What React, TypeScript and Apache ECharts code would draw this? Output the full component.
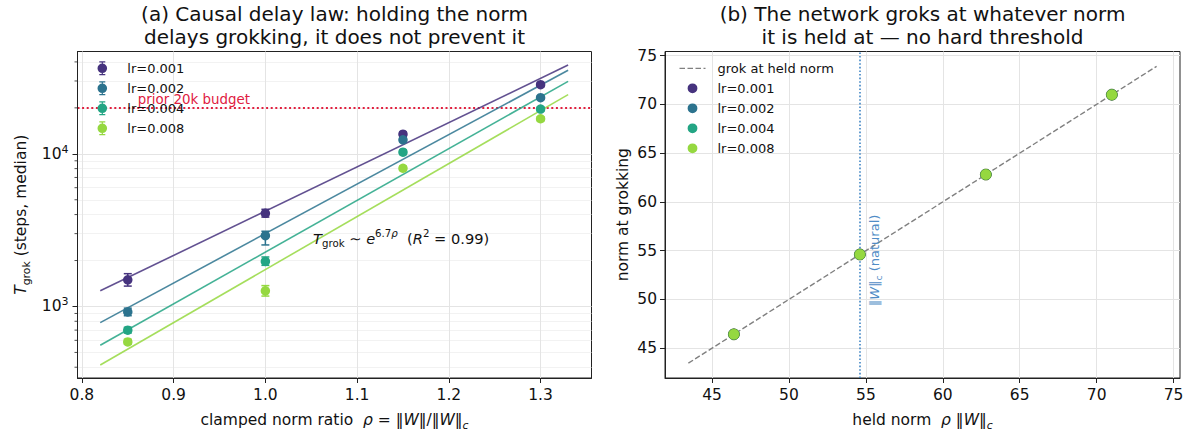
import React, { useEffect, useRef } from "react";
import * as echarts from "echarts";

const FONT = "DejaVu Sans";
const TXT = "#111111";

// ---------- panel (a) data ----------
const lrLabels = ["lr=0.001", "lr=0.002", "lr=0.004", "lr=0.008"];
const lrColors = ["#46337e", "#2c738e", "#23a584", "#95d840"];
const rhoValues = [0.85, 1.0, 1.15, 1.3];
const tGrokMedian = [
  [1495, 4074, 13450, 28380],
  [921, 2908, 12360, 23320],
  [699, 1972, 10245, 19630],
  [586, 1266, 8043, 16970],
];
const tGrokLow = [
  [1360, 3850, 13000, 27500],
  [870, 2530, 12000, 22700],
  [670, 1860, 9900, 19100],
  [565, 1170, 7800, 16500],
];
const tGrokHigh = [
  [1640, 4330, 13900, 29300],
  [975, 3110, 12700, 23900],
  [730, 2110, 10600, 20200],
  [610, 1370, 8300, 17500],
];
const fitRhoEnds = [0.82, 1.33];
const fitTEnds = [
  [1266, 38160],
  [784, 35240],
  [557, 29830],
  [414, 24400],
];
const budgetSteps = 20000;
const xTicksA = [0.8, 0.9, 1.0, 1.1, 1.2, 1.3];
const yMajorA = [1000, 10000];
const yMinorA = [400, 500, 600, 700, 800, 900, 2000, 3000, 4000, 5000, 6000, 7000, 8000, 9000, 20000, 30000, 40000];

// ---------- panel (b) data ----------
const naturalNorm = 54.61;
const heldNorm = [46.42, 54.61, 62.8, 70.99];
const normAtGrok = [
  [46.42, 54.61, 62.8, 70.99],
  [46.42, 54.61, 62.8, 70.99],
  [46.42, 54.61, 62.8, 70.99],
  [46.42, 54.61, 62.8, 70.99],
];
const identityEnds = [43.46, 73.9];
const ticksB = [45, 50, 55, 60, 65, 70, 75];

// axis limits
const xMinA = 0.7952, xMaxA = 1.3555;
const yMinA = 340, yMaxA = 46800;
const minB = 41.94, maxB = 75.42;

// legend icons drawn in full 40x14 boxes (tiny corner specks fix the bounding box)
const BOX = "M0,0h0.01v0.01h-0.01z M39.99,13.99h0.01v0.01h-0.01z ";
const EB_ICON =
  "path://" + BOX +
  "M17,0h6v1.3h-6z M17,12.7h6v1.3h-6z M19.4,0h1.2v14h-1.2z M15.2,7a4.8,4.8 0 1 1 9.6,0a4.8,4.8 0 1 1 -9.6,0z";
const DOT_ICON = "path://" + BOX + "M15.1,7a4.9,4.9 0 1 1 9.8,0a4.9,4.9 0 1 1 -9.8,0z";
const DASH_ICON =
  "path://" + BOX +
  "M7,6.35h5.5v1.3h-5.5z M15,6.35h5.5v1.3h-5.5z M23,6.35h5.5v1.3h-5.5z M31,6.35h2v1.3h-2z";

function mathRich(size: number, lh: number, key: "color" | "fill", col: string) {
  const c: any = { [key]: col };
  return {
    n: { fontSize: size, fontFamily: FONT, lineHeight: lh, ...c },
    it: { fontSize: size, fontFamily: FONT, fontStyle: "italic", lineHeight: lh, ...c },
    sub: { fontSize: size * 0.7, fontFamily: FONT, verticalAlign: "bottom", lineHeight: size * 0.7, ...c },
    subit: { fontSize: size * 0.7, fontFamily: FONT, fontStyle: "italic", verticalAlign: "bottom", lineHeight: size * 0.7, ...c },
    sup: { fontSize: size * 0.7, fontFamily: FONT, verticalAlign: "top", lineHeight: size * 0.7, ...c },
    supit: { fontSize: size * 0.7, fontFamily: FONT, fontStyle: "italic", verticalAlign: "top", lineHeight: size * 0.7, ...c },
  };
}

export default function App() {
  const ref = useRef<HTMLDivElement>(null);
  useEffect(() => {
    if (!ref.current) return;
    const chart = echarts.init(ref.current, undefined, { renderer: "svg" });

    const tickStyle = { fontSize: 15.5, fontFamily: FONT, color: TXT };
    const axisLineStyle = { color: "#222", width: 1 };
    const majorGrid = { color: "#e4e4e4", width: 1, type: "solid" };
    const minorGrid = { color: "#efefef", width: 0.8, type: "solid" };

    const series: any[] = [];

    // panel (a) grid lines + budget line (kept under the marks)
    series.push({
      type: "line",
      xAxisIndex: 0,
      yAxisIndex: 0,
      data: [[1.0, 1000]],
      symbol: "none",
      lineStyle: { opacity: 0 },
      silent: true,
      z: 0,
      markLine: {
        silent: true,
        z: 0,
        symbol: "none",
        label: { show: false },
        data: [
          ...yMinorA.map((v) => ({ yAxis: v, lineStyle: minorGrid })),
          ...yMajorA.map((v) => ({ yAxis: v, lineStyle: majorGrid })),
          ...xTicksA.map((v) => ({ xAxis: v, lineStyle: majorGrid })),
          { yAxis: budgetSteps, lineStyle: { color: "#e0203f", width: 1.8, type: [2, 2.6] } },
        ],
      },
    });

    lrLabels.forEach((name, i) => {
      const color = lrColors[i];
      series.push({
        type: "custom",
        name: "eb" + i,
        xAxisIndex: 0,
        yAxisIndex: 0,
        z: 2,
        encode: { x: 0, y: [1, 2] },
        data: rhoValues.map((r, j) => [r, tGrokLow[i][j], tGrokHigh[i][j]]),
        renderItem: (params: any, api: any) => {
          const x = api.value(0);
          const a = api.coord([x, api.value(1)]);
          const b = api.coord([x, api.value(2)]);
          const cw = 4;
          const st = { stroke: color, lineWidth: 1.5, fill: "none" };
          return {
            type: "group",
            children: [
              { type: "line", shape: { x1: a[0], y1: a[1], x2: b[0], y2: b[1] }, style: st },
              { type: "line", shape: { x1: a[0] - cw, y1: a[1], x2: a[0] + cw, y2: a[1] }, style: st },
              { type: "line", shape: { x1: b[0] - cw, y1: b[1], x2: b[0] + cw, y2: b[1] }, style: st },
            ],
          };
        },
      });
      series.push({
        type: "scatter",
        name,
        xAxisIndex: 0,
        yAxisIndex: 0,
        z: 3,
        symbolSize: 9.5,
        itemStyle: { color, opacity: 1 },
        data: rhoValues.map((r, j) => [r, tGrokMedian[i][j]]),
      });
      series.push({
        type: "line",
        name: "fit" + i,
        xAxisIndex: 0,
        yAxisIndex: 0,
        z: 3,
        symbol: "none",
        showSymbol: false,
        lineStyle: { color, width: 1.6, opacity: 0.85 },
        data: fitRhoEnds.map((r, k) => [r, fitTEnds[i][k]]),
      });
    });

    // panel (b)
    series.push({
      type: "line",
      xAxisIndex: 1,
      yAxisIndex: 1,
      data: [[50, 50]],
      symbol: "none",
      lineStyle: { opacity: 0 },
      silent: true,
      z: 0,
      markLine: {
        silent: true,
        z: 0,
        symbol: "none",
        label: { show: false },
        data: [
          ...ticksB.map((v) => ({ xAxis: v, lineStyle: majorGrid })),
          ...ticksB.map((v) => ({ yAxis: v, lineStyle: majorGrid })),
        ],
      },
    });
    series.push({
      type: "line",
      name: "grok at held norm",
      xAxisIndex: 1,
      yAxisIndex: 1,
      z: 2,
      symbol: "none",
      showSymbol: false,
      color: "#808080",
      lineStyle: { color: "#808080", width: 1.4, type: [5.5, 2.5] },
      data: identityEnds.map((v) => [v, v]),
      markLine: {
        silent: true,
        z: 1,
        symbol: "none",
        label: { show: false },
        data: [{ xAxis: naturalNorm, lineStyle: { color: "#3f84c4", width: 1.6, type: [1.6, 2] } }],
      },
    });
    lrLabels.forEach((name, i) => {
      series.push({
        type: "scatter",
        name,
        xAxisIndex: 1,
        yAxisIndex: 1,
        z: 3,
        symbolSize: 11,
        itemStyle: { color: lrColors[i], borderColor: "rgba(60,90,20,0.35)", borderWidth: 0.6, opacity: 1 },
        data: heldNorm.map((h, j) => [h, normAtGrok[i][j]]),
      });
    });

    const nameRich = mathRich(15.5, 22, "color", TXT);
    const legendText = { fontSize: 13, fontFamily: FONT, color: TXT, lineHeight: 14 };

    const option: any = {
      animation: false,
      backgroundColor: "#ffffff",
      textStyle: { fontFamily: FONT },
      grid: [
        { left: 77.5, top: 51.5, width: 514, height: 327, show: true, borderColor: "#222", borderWidth: 1, containLabel: false },
        { left: 665, top: 51.5, width: 515, height: 327, show: true, borderColor: "#222", borderWidth: 1, containLabel: false },
      ],
      xAxis: [
        {
          type: "value",
          gridIndex: 0,
          min: xMinA,
          max: xMaxA,
          axisLine: { show: true, onZero: false, lineStyle: axisLineStyle },
          axisTick: { show: true, length: 5, lineStyle: axisLineStyle, customValues: xTicksA },
          axisLabel: { ...tickStyle, margin: 9, customValues: xTicksA, formatter: (v: number) => v.toFixed(1) },
          splitLine: { show: false },
          name: "clamped norm ratio  {it|ρ} = ‖{it|W}‖/‖{it|W}‖{subit|c}",
          nameLocation: "middle",
          nameGap: 31,
          nameTextStyle: { fontSize: 15.5, fontFamily: FONT, color: TXT, lineHeight: 22, rich: nameRich },
        },
        {
          type: "value",
          gridIndex: 1,
          min: minB,
          max: maxB,
          axisLine: { show: true, onZero: false, lineStyle: axisLineStyle },
          axisTick: { show: true, length: 5, lineStyle: axisLineStyle, customValues: ticksB },
          axisLabel: { ...tickStyle, margin: 9, customValues: ticksB },
          splitLine: { show: false },
          name: "held norm  {it|ρ} ‖{it|W}‖{subit|c}",
          nameLocation: "middle",
          nameGap: 31,
          nameTextStyle: { fontSize: 15.5, fontFamily: FONT, color: TXT, lineHeight: 22, rich: nameRich },
        },
      ],
      yAxis: [
        {
          type: "log",
          logBase: 10,
          gridIndex: 0,
          min: yMinA,
          max: yMaxA,
          axisLine: { show: true, onZero: false, lineStyle: axisLineStyle },
          axisTick: { show: true, length: 5, lineStyle: axisLineStyle, customValues: yMajorA },
          axisLabel: {
            ...tickStyle,
            margin: 9,
            customValues: yMajorA,
            formatter: (v: number) => "{b|10}{s|" + Math.round(Math.log10(v)) + "}",
            rich: {
              b: { fontSize: 15.5, fontFamily: FONT, color: TXT, lineHeight: 20 },
              s: { fontSize: 11, fontFamily: FONT, color: TXT, verticalAlign: "top", lineHeight: 11 },
            },
          },
          splitLine: { show: false },
          name: "{it|T}{sub|grok} (steps, median)",
          nameLocation: "middle",
          nameGap: 46,
          nameRotate: 90,
          nameTextStyle: { fontSize: 15.5, fontFamily: FONT, color: TXT, lineHeight: 22, rich: nameRich },
        },
        {
          type: "value",
          gridIndex: 1,
          min: minB,
          max: maxB,
          axisLine: { show: true, onZero: false, lineStyle: axisLineStyle },
          axisTick: { show: true, length: 5, lineStyle: axisLineStyle, customValues: ticksB },
          axisLabel: { ...tickStyle, margin: 8, customValues: ticksB },
          splitLine: { show: false },
          name: "norm at grokking",
          nameLocation: "middle",
          nameGap: 34,
          nameRotate: 90,
          nameTextStyle: { fontSize: 15.5, fontFamily: FONT, color: TXT },
        },
      ],
      legend: [
        {
          orient: "vertical",
          left: 82.3,
          top: 61.3,
          padding: 0,
          itemWidth: 40,
          itemHeight: 14,
          itemGap: 6,
          selectedMode: false,
          data: lrLabels.map((n) => ({ name: n, icon: EB_ICON })),
          textStyle: legendText,
        },
        {
          orient: "vertical",
          left: 672.5,
          top: 61.3,
          padding: 0,
          itemWidth: 40,
          itemHeight: 14,
          itemGap: 6,
          selectedMode: false,
          data: [
            { name: "grok at held norm", icon: DASH_ICON },
            ...lrLabels.map((n) => ({ name: n, icon: DOT_ICON })),
          ],
          textStyle: legendText,
        },
      ],
      series,
    };

    chart.setOption(option);

    // annotations anchored to data through the chart's own conversion
    const pA = (x: number, y: number) => chart.convertToPixel({ xAxisIndex: 0, yAxisIndex: 0 }, [x, y]) as number[];
    const pB = (x: number, y: number) => chart.convertToPixel({ xAxisIndex: 1, yAxisIndex: 1 }, [x, y]) as number[];
    const gridLeftA = 77.5;

    const graphics: any[] = [];
    const titleStyle = {
      fontSize: 20,
      fontFamily: FONT,
      fill: TXT,
      align: "center",
      verticalAlign: "middle",
      lineHeight: 23,
    };
    graphics.push({
      type: "text",
      x: 334.5,
      y: 25.5,
      style: { ...titleStyle, text: "(a) Causal delay law: holding the norm\ndelays grokking, it does not prevent it" },
    });
    graphics.push({
      type: "text",
      x: 922.5,
      y: 25.5,
      style: { ...titleStyle, text: "(b) The network groks at whatever norm\nit is held at — no hard threshold" },
    });
    const ann = pA(1.052, 2780);
    graphics.push({
      type: "text",
      x: ann[0],
      y: ann[1],
      z: 10,
      style: {
        text: "{it|T}{sub|grok}{n| ∼ }{it|e}{sup|6.7}{supit|ρ}{n|  (}{it|R}{sup|2}{n| = 0.99)}",
        rich: mathRich(14.6, 20, "fill", TXT),
        align: "left",
        verticalAlign: "middle",
      },
    });
    const bud = pA(0.861, budgetSteps);
    graphics.push({
      type: "text",
      x: bud[0],
      y: bud[1] - 2,
      z: 10,
      style: {
        text: "prior 20k budget",
        fontSize: 13.4,
        fontFamily: FONT,
        fill: "#e0203f",
        align: "left",
        verticalAlign: "bottom",
      },
    });
    const nat = pB(naturalNorm, 49.3);
    const natBlue = "#4f8cc6";
    graphics.push({
      type: "text",
      x: nat[0] + 6,
      y: nat[1],
      rotation: Math.PI / 2,
      z: 10,
      style: {
        text: "{n|‖}{it|W}{n|‖}{sub|c}{n| (natural)}",
        rich: {
          n: { fontSize: 13, fontFamily: FONT, fill: natBlue, lineHeight: 18 },
          it: { fontSize: 13, fontFamily: FONT, fontStyle: "italic", fill: natBlue, lineHeight: 18 },
          sub: { fontSize: 9, fontFamily: FONT, fill: natBlue, verticalAlign: "bottom", lineHeight: 9 },
        },
        fill: natBlue,
        align: "left",
        verticalAlign: "top",
      },
    });
    yMinorA.forEach((v) => {
      const p = pA(xMinA, v);
      graphics.push({
        type: "line",
        shape: { x1: gridLeftA - 3, y1: p[1], x2: gridLeftA, y2: p[1] },
        style: { stroke: "#222", lineWidth: 0.8 },
      });
    });

    chart.setOption({ graphic: graphics });

    return () => chart.dispose();
  }, []);

  return <div ref={ref} style={{ position: "fixed", left: 0, top: 0, width: 1193, height: 436 }} />;
}
